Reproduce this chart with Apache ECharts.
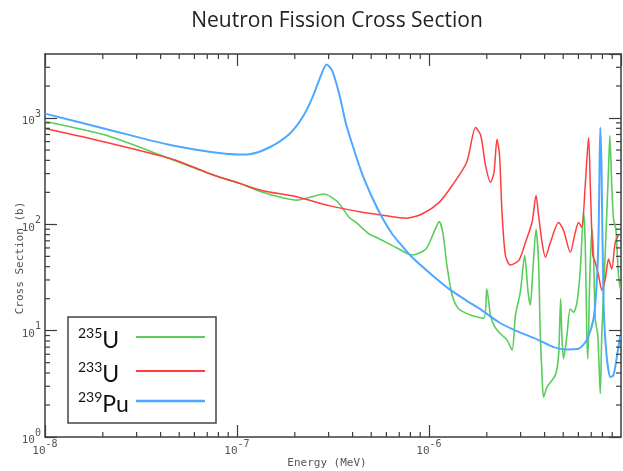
<!DOCTYPE html>
<html>
<head>
<meta charset="utf-8">
<script src="https://cdn.jsdelivr.net/npm/echarts@6/dist/echarts.min.js"></script>
<style>
  html, body { margin: 0; padding: 0; background: #fff; }
  #chart { width: 623px; height: 471px; }
</style>
</head>
<body>
<div id="chart"></div>
<script>
// Axis ranges (energy in MeV, cross section in barns)
const X_MIN = 1e-8, X_MAX = 1e-5;
const Y_MIN = 1, Y_MAX = 4000;

// Series: [energy (MeV), fission cross section (b)]
const u235 = [
  [1.0e-8, 927], [2.1e-8, 685], [4.3e-8, 426], [7.46e-8, 293], [1.03e-7, 243],
  [1.36e-7, 200], [2.04e-7, 169], [2.38e-7, 179], [2.85e-7, 193], [3.29e-7, 167],
  [3.53e-7, 144], [3.84e-7, 116], [4.18e-7, 104], [4.88e-7, 81.1], [5.31e-7, 75.5],
  [6.98e-7, 58.6], [8.16e-7, 51.5], [9.64e-7, 58.6], [1.06e-6, 84.1], [1.13e-6, 106],
  [1.18e-6, 84.1], [1.24e-6, 41.2], [1.32e-6, 21.5], [1.43e-6, 16.0], [1.67e-6, 13.9],
  [1.93e-6, 13.1], [2.00e-6, 24.7], [2.09e-6, 14.0], [2.18e-6, 11.2], [2.31e-6, 9.68],
  [2.55e-6, 8.15], [2.71e-6, 6.56], [2.82e-6, 14.0], [2.99e-6, 23.0], [3.15e-6, 51.2],
  [3.28e-6, 23.0], [3.37e-6, 17.4], [3.47e-6, 35.4], [3.61e-6, 90.4], [3.72e-6, 44.0],
  [3.80e-6, 9.07], [3.88e-6, 3.82], [3.95e-6, 2.37], [4.12e-6, 2.95], [4.55e-6, 3.82],
  [4.73e-6, 5.89], [4.85e-6, 19.9], [4.92e-6, 9.07], [5.02e-6, 5.43], [5.23e-6, 9.07],
  [5.44e-6, 16.0], [5.66e-6, 14.9], [5.90e-6, 18.5], [6.14e-6, 38.0], [6.38e-6, 130],
  [6.51e-6, 67.8], [6.64e-6, 9.07], [6.72e-6, 5.43], [6.86e-6, 26.7], [7.05e-6, 90.4],
  [7.19e-6, 54.6], [7.34e-6, 12.9], [7.57e-6, 9.07], [7.80e-6, 2.55], [7.94e-6, 9.07],
  [8.28e-6, 54.6], [8.61e-6, 331], [8.75e-6, 685], [8.95e-6, 232], [9.14e-6, 112],
  [9.40e-6, 90.4], [9.70e-6, 33.2], [9.91e-6, 24.7]
];

const u233 = [
  [1.0e-8, 797], [2.1e-8, 589], [4.62e-8, 410], [7.46e-8, 293], [1.03e-7, 243],
  [1.36e-7, 207], [2.04e-7, 182], [3.02e-7, 150], [4.49e-7, 130], [5.70e-7, 122],
  [7.60e-7, 114], [9.20e-7, 125], [1.13e-6, 161], [1.32e-6, 232], [1.57e-6, 382],
  [1.75e-6, 814], [1.86e-6, 685], [1.97e-6, 358], [2.09e-6, 248], [2.18e-6, 308],
  [2.26e-6, 632], [2.33e-6, 444], [2.40e-6, 130], [2.50e-6, 51.2], [2.65e-6, 41.5],
  [2.94e-6, 45.9], [3.18e-6, 67.8], [3.44e-6, 104], [3.61e-6, 187], [3.72e-6, 122],
  [3.88e-6, 67.8], [4.04e-6, 49.0], [4.29e-6, 67.8], [4.73e-6, 104], [5.02e-6, 87.9],
  [5.44e-6, 54.6], [5.78e-6, 84.1], [6.01e-6, 104], [6.25e-6, 93.7], [6.51e-6, 232],
  [6.78e-6, 656], [6.92e-6, 232], [7.13e-6, 51.2], [7.34e-6, 44.0], [7.64e-6, 33.2],
  [7.94e-6, 24.0], [8.28e-6, 30.6], [8.61e-6, 47.2], [8.95e-6, 38.0], [9.33e-6, 67.8],
  [9.70e-6, 78.8]
];

const pu239 = [
  [1.0e-8, 1100], [2.1e-8, 785], [4.62e-8, 552], [1.03e-7, 454], [1.16e-7, 457],
  [1.47e-7, 528], [1.87e-7, 705], [2.19e-7, 1010], [2.47e-7, 1557], [2.75e-7, 2578],
  [2.93e-7, 3178], [3.13e-7, 2793], [3.41e-7, 1674], [3.70e-7, 875], [4.08e-7, 495],
  [4.49e-7, 297], [5.06e-7, 179], [5.70e-7, 116], [6.43e-7, 81.1], [6.98e-7, 67.8],
  [8.16e-7, 49.0], [1.04e-6, 33.2], [1.27e-6, 24.7], [1.56e-6, 19.3], [1.88e-6, 15.6],
  [2.31e-6, 12.0], [2.70e-6, 10.4], [3.72e-6, 8.15], [4.46e-6, 7.00], [5.21e-6, 6.66],
  [6.01e-6, 6.75], [6.62e-6, 8.15], [7.19e-6, 12.9], [7.46e-6, 26.7], [7.64e-6, 78.8],
  [7.73e-6, 331], [7.80e-6, 814], [7.92e-6, 331], [8.11e-6, 18.5], [8.41e-6, 5.89],
  [8.81e-6, 3.66], [9.14e-6, 3.82], [9.48e-6, 5.43], [9.91e-6, 9.07]
];

// Legend entries: mass number (superscript) + element symbol
const massNumbers = ['235', '233', '239'];
const elements = ['U', 'U', 'Pu'];
const seriesColors = ['#5acd5a', '#ff3d3d', '#4ea8ff'];
const seriesWidths = [1.6, 1.5, 2];

const AXIS_COLOR = '#3c3c3c';
const LABEL_COLOR = '#555';
const MONO = '"DejaVu Sans Mono", "Liberation Mono", monospace';

// Minor tick positions (2..9 within each decade)
const minorX = [];
for (let k = -8; k < -5; k++) for (let m = 2; m <= 9; m++) minorX.push(m * Math.pow(10, k));
const minorY = [];
for (let k = 0; k < 4; k++) for (let m = 2; m <= 9; m++) {
  const v = m * Math.pow(10, k);
  if (v < Y_MAX) minorY.push(v);
}

const MINOR_LEN = 5;

function minorTickSeries(values, dir) {
  return {
    type: 'custom',
    name: 'ticks-' + dir,
    silent: true,
    clip: false,
    z: 4,
    data: values.map(v => dir === 'x' ? [v, Y_MIN] : [X_MIN, v]),
    renderItem(params, api) {
      const style = { stroke: AXIS_COLOR, lineWidth: 1.2 };
      if (dir === 'x') {
        const v = api.value(0);
        const a = api.coord([v, Y_MIN]);
        const b = api.coord([v, Y_MAX]);
        return { type: 'group', children: [
          { type: 'line', shape: { x1: a[0], y1: a[1], x2: a[0], y2: a[1] - MINOR_LEN }, style },
          { type: 'line', shape: { x1: b[0], y1: b[1], x2: b[0], y2: b[1] + MINOR_LEN }, style }
        ]};
      }
      const v = api.value(1);
      const a = api.coord([X_MIN, v]);
      const b = api.coord([X_MAX, v]);
      return { type: 'group', children: [
        { type: 'line', shape: { x1: a[0], y1: a[1], x2: a[0] + MINOR_LEN, y2: a[1] }, style },
        { type: 'line', shape: { x1: b[0], y1: b[1], x2: b[0] - MINOR_LEN, y2: b[1] }, style }
      ]};
    }
  };
}

const powLabel = {
  formatter: v => '{b|10}{s|' + Math.round(Math.log10(v)) + '}',
  rich: {
    b: { fontFamily: MONO, fontSize: 11, color: LABEL_COLOR, lineHeight: 18, verticalAlign: 'bottom' },
    s: { fontFamily: MONO, fontSize: 10, color: LABEL_COLOR, verticalAlign: 'top' }
  }
};

function baseAxis(extra) {
  return Object.assign({
    type: 'log',
    logBase: 10,
    axisLine: { show: true, lineStyle: { color: AXIS_COLOR, width: 1.5 } },
    axisTick: { show: true, inside: true, length: 12, lineStyle: { color: AXIS_COLOR, width: 1.2 } },
    splitLine: { show: false },
    minorTick: { show: false },
    minorSplitLine: { show: false }
  }, extra);
}

const lineSeries = [u235, u233, pu239].map((data, i) => ({
  type: 'line',
  name: massNumbers[i] + elements[i],
  data: data,
  symbol: 'none',
  smooth: 0.25,
  lineStyle: { color: seriesColors[i], width: seriesWidths[i] },
  itemStyle: { color: seriesColors[i] }
}));

// Legend box drawn as a framed panel: label on the left, line sample on the right
const LEG = { x: 68, y: 317, w: 148, h: 106, textX: 78, lineX1: 136, lineX2: 205, rows: [337, 371, 401] };
const overlay = [{
  type: 'rect',
  shape: { x: LEG.x, y: LEG.y, width: LEG.w, height: LEG.h },
  style: { fill: '#fff', stroke: '#444', lineWidth: 1.5 },
  z: 100
}];
massNumbers.forEach((mn, i) => {
  const y = LEG.rows[i];
  overlay.push({
    type: 'text',
    x: LEG.textX, y: y + 2,
    z: 101,
    style: {
      text: '{s|' + mn + '}{b|' + elements[i] + '}',
      verticalAlign: 'middle',
      align: 'left',
      rich: {
        s: { fontFamily: 'Lato', fontSize: 14, fill: '#111', verticalAlign: 'top' },
        b: { fontFamily: 'Lato', fontSize: 23, fill: '#111', lineHeight: 26, verticalAlign: 'bottom' }
      }
    }
  });
  overlay.push({
    type: 'line',
    z: 101,
    shape: { x1: LEG.lineX1, y1: y, x2: LEG.lineX2, y2: y },
    style: { stroke: seriesColors[i], lineWidth: seriesWidths[i] + 0.4 }
  });
});

// Axis titles
overlay.push({
  type: 'text',
  x: 20, y: 258,
  rotation: Math.PI / 2,
  style: {
    text: 'Cross Section (b)',
    align: 'center',
    verticalAlign: 'middle',
    fontFamily: MONO,
    fontSize: 11,
    fill: LABEL_COLOR
  }
});
overlay.push({
  type: 'text',
  x: 327, y: 463,
  style: {
    text: 'Energy (MeV)',
    align: 'center',
    verticalAlign: 'middle',
    fontFamily: MONO,
    fontSize: 11,
    fill: LABEL_COLOR
  }
});

const chart = echarts.init(document.getElementById('chart'));
chart.setOption({
  animation: false,
  backgroundColor: '#fff',
  title: {
    text: 'Neutron Fission Cross Section',
    left: 332,
    textAlign: 'center',
    top: 6,
    textStyle: { fontFamily: 'Open Sans', fontWeight: 'normal', fontSize: 21, color: '#222' }
  },
  grid: { left: 45, right: 2, top: 54, bottom: 34, containLabel: false, outerBoundsMode: 'none' },
  xAxis: [
    baseAxis({
      position: 'bottom', min: X_MIN, max: X_MAX,
      axisLabel: Object.assign({ margin: 2, showMaxLabel: false }, powLabel)
    }),
    baseAxis({ position: 'top', min: X_MIN, max: X_MAX, axisLabel: { show: false } })
  ],
  yAxis: [
    baseAxis({
      position: 'left', min: Y_MIN, max: Y_MAX,
      axisLabel: Object.assign({ margin: 4, showMaxLabel: false }, powLabel)
    }),
    baseAxis({ position: 'right', min: Y_MIN, max: Y_MAX, axisLabel: { show: false } })
  ],
  series: lineSeries.concat([minorTickSeries(minorX, 'x'), minorTickSeries(minorY, 'y')]),
  graphic: overlay
});
</script>
</body>
</html>
